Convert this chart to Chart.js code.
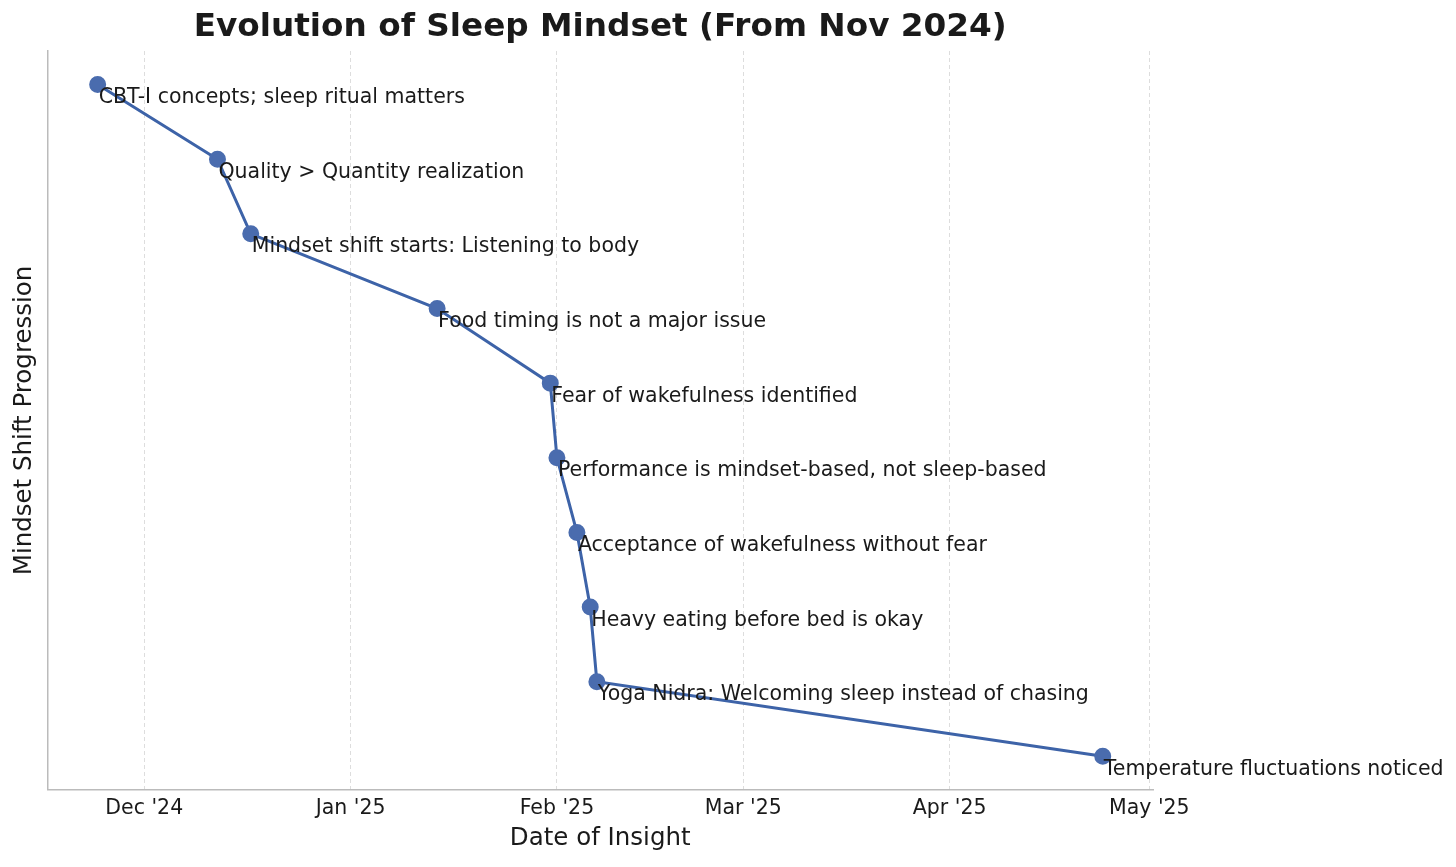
<!DOCTYPE html>
<html>
<head>
<meta charset="utf-8">
<script src="https://cdn.jsdelivr.net/npm/chart.js@4.4.1/dist/chart.umd.min.js"></script>
<style>
  html, body { margin: 0; padding: 0; background: #fff; }
  #wrap { width: 1456px; height: 867px; }
</style>
</head>
<body>
<div id="wrap"><canvas id="chart" width="1456" height="867"></canvas></div>
<script>
const chartTitle = "Evolution of Sleep Mindset (From Nov 2024)";
const insightDates = ["2024-11-24", "2024-12-12", "2024-12-17", "2025-01-14", "2025-01-31",
                      "2025-02-01", "2025-02-04", "2025-02-06", "2025-02-07", "2025-04-24"];
const insightLabels = [
    "CBT-I concepts; sleep ritual matters",
    "Quality > Quantity realization",
    "Mindset shift starts: Listening to body",
    "Food timing is not a major issue",
    "Fear of wakefulness identified",
    "Performance is mindset-based, not sleep-based",
    "Acceptance of wakefulness without fear",
    "Heavy eating before bed is okay",
    "Yoga Nidra: Welcoming sleep instead of chasing",
    "Temperature fluctuations noticed"
];
const progression = [10, 9, 8, 7, 6, 5, 4, 3, 2, 1];
const tickDates = ["2024-12-01", "2025-01-01", "2025-02-01", "2025-03-01", "2025-04-01", "2025-05-01"];
const tickLabels = ["Dec '24", "Jan '25", "Feb '25", "Mar '25", "Apr '25", "May '25"];

const DAY = 86400000;
const toDay = s => Date.parse(s + "T00:00:00Z") / DAY;

const points = insightDates.map((d, i) => ({ x: toDay(d), y: progression[i] }));
const xs = points.map(p => p.x);
const span = Math.max(...xs) - Math.min(...xs);
const xMin = Math.min(...xs) - span * 0.05;
const xMax = Math.max(...xs) + span * 0.05;
const tickDays = tickDates.map(toDay);

// writes each insight next to its point, and the title centred over the axes
const pointLabels = {
    id: "pointLabels",
    afterDatasetsDraw(chart) {
        const ctx = chart.ctx;
        const meta = chart.getDatasetMeta(0);
        const area = chart.chartArea;
        ctx.save();
        ctx.font = "20.5px 'DejaVu Sans'";
        ctx.fillStyle = "#1a1a1a";
        ctx.textAlign = "left";
        ctx.textBaseline = "top";
        meta.data.forEach((pt, i) => {
            ctx.fillText(insightLabels[i], pt.x + 1, pt.y + 3);
        });
        ctx.font = "bold 32.7px 'DejaVu Sans'";
        ctx.textAlign = "center";
        ctx.textBaseline = "middle";
        ctx.fillText(chartTitle, (area.left + area.right) / 2, 28);
        ctx.restore();
    }
};

const ctx = document.getElementById("chart").getContext("2d");
new Chart(ctx, {
    type: "line",
    data: {
        datasets: [{
            data: points,
            borderColor: "#3d63a8",
            borderWidth: 3,
            backgroundColor: "#4a6cae",
            pointBackgroundColor: "#4a6cae",
            pointBorderColor: "#4a6cae",
            pointRadius: 7,
            tension: 0,
            fill: false
        }]
    },
    options: {
        responsive: false,
        animation: false,
        layout: { padding: { left: 10, right: 303, top: 51, bottom: 16 } },
        plugins: {
            legend: { display: false },
            tooltip: { enabled: false },
            title: { display: false }
        },
        scales: {
            x: {
                type: "linear",
                min: xMin,
                max: xMax,
                afterBuildTicks: axis => { axis.ticks = tickDays.map(v => ({ value: v })); },
                ticks: {
                    color: "#1a1a1a",
                    font: { family: "'DejaVu Sans'", size: 20.5 },
                    padding: 6,
                    maxRotation: 0,
                    callback: v => tickLabels[tickDays.indexOf(v)]
                },
                grid: { color: "#dddddd", lineWidth: 1, drawTicks: false },
                border: { color: "#bbbbbb", width: 1.5, dash: [4, 3] },
                title: {
                    display: true,
                    text: "Date of Insight",
                    color: "#1a1a1a",
                    font: { family: "'DejaVu Sans'", size: 24.5, lineHeight: 1.0 },
                    padding: { top: 0, bottom: 0 }
                }
            },
            y: {
                type: "linear",
                min: 0.55,
                max: 10.45,
                ticks: { display: false },
                grid: { display: false, drawTicks: false },
                border: { color: "#bbbbbb", width: 1.5 },
                title: {
                    display: true,
                    text: "Mindset Shift Progression",
                    color: "#1a1a1a",
                    font: { family: "'DejaVu Sans'", size: 24.5 },
                    padding: { top: 0, bottom: 8 }
                }
            }
        }
    },
    plugins: [pointLabels]
});
</script>
</body>
</html>
